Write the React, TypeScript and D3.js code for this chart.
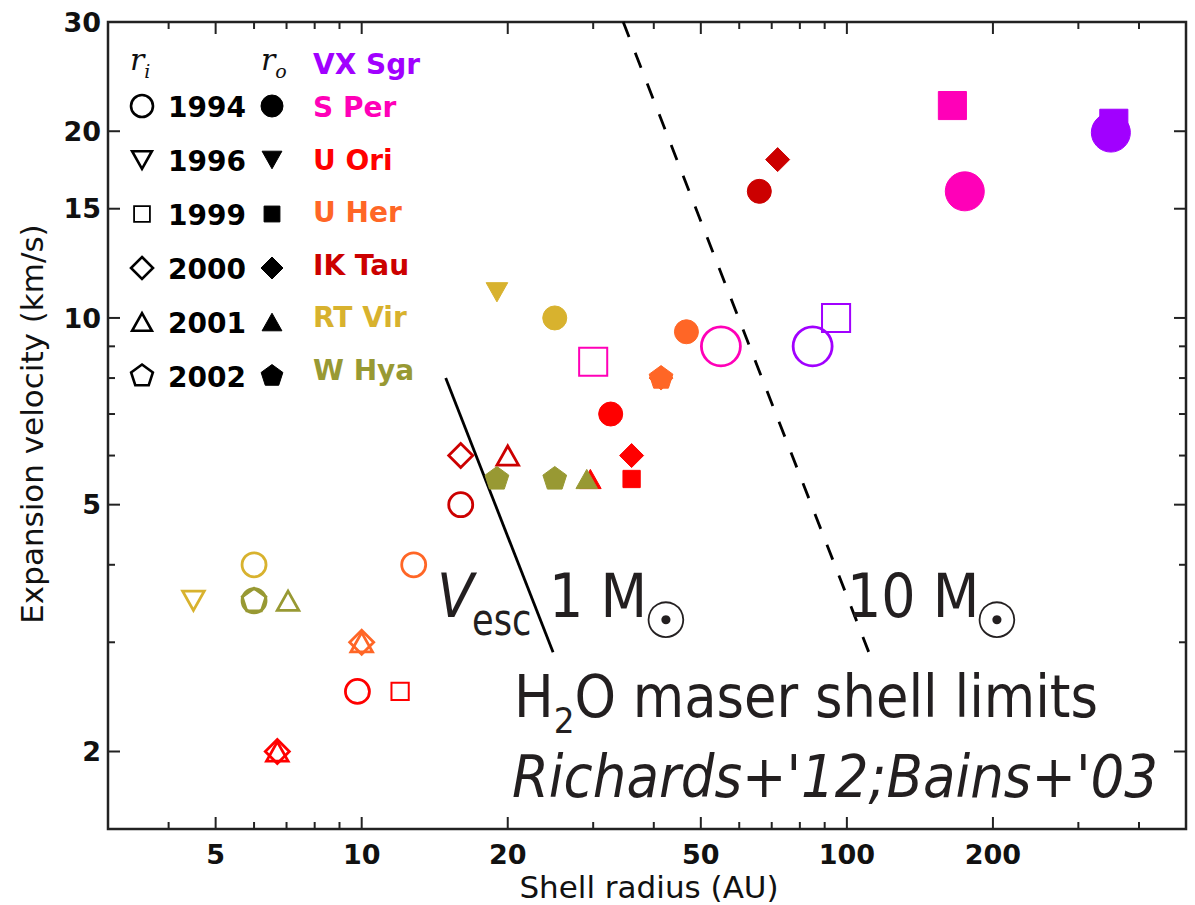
import React from 'react';
import * as d3 from 'd3';

// stars and epochs used in the legend
const stars = ['VX Sgr', 'S Per', 'U Ori', 'U Her', 'IK Tau', 'RT Vir', 'W Hya'];
const epochs = [1994, 1996, 1999, 2000, 2001, 2002];

// every measured shell edge: star, epoch, inner (i) / outer (o) edge, radius (AU), velocity (km/s)
const pointStar = [
  'VX Sgr', 'VX Sgr', 'VX Sgr', 'VX Sgr',
  'S Per', 'S Per', 'S Per', 'S Per',
  'IK Tau', 'IK Tau', 'IK Tau', 'IK Tau', 'IK Tau',
  'U Ori', 'U Ori', 'U Ori', 'U Ori', 'U Ori', 'U Ori', 'U Ori', 'U Ori',
  'U Her', 'U Her', 'U Her', 'U Her', 'U Her', 'U Her',
  'RT Vir', 'RT Vir', 'RT Vir', 'RT Vir',
  'W Hya', 'W Hya', 'W Hya', 'W Hya', 'W Hya', 'W Hya',
];
const pointEpoch = [
  1994, 1999, 1999, 1994,
  1994, 1999, 1999, 1994,
  1994, 2000, 2000, 2001, 1994,
  1994, 2000, 1999, 2001, 1994, 1999, 2000, 2001,
  1994, 2000, 2002, 1994, 2000, 2001,
  1996, 1994, 1994, 1996,
  2002, 2002, 2001, 2002, 1994, 2001,
];
const pointEdge = [
  'i', 'i', 'o', 'o',
  'i', 'i', 'o', 'o',
  'o', 'o', 'i', 'i', 'i',
  'o', 'o', 'o', 'o', 'i', 'i', 'i', 'i',
  'o', 'o', 'o', 'i', 'i', 'i',
  'o', 'o', 'i', 'i',
  'o', 'o', 'o', 'i', 'i', 'i',
];
const pointRadius = [
  85, 95, 355, 350,
  55, 30, 165, 175,
  66, 72, 16, 20, 16,
  32.6, 36, 36, 29.6, 9.8, 12, 6.7, 6.7,
  46.7, 41.4, 41.4, 12.8, 10, 10,
  19, 25, 6.0, 4.5,
  19, 25, 29.1, 6.0, 6.0, 7.05,
];
const pointVelocity = [
  9.0, 10.0, 20.6, 19.9,
  9.0, 8.5, 22.0, 16.0,
  16.0, 18.0, 6.0, 6.0, 5.0,
  7.0, 6.0, 5.5, 5.5, 2.5, 2.5, 2.0, 2.0,
  9.5, 8.0, 8.0, 4.0, 3.0, 3.0,
  11.0, 10.0, 4.0, 3.5,
  5.5, 5.5, 5.5, 3.5, 3.5, 3.5,
];

// escape velocity guide lines (1 and 10 solar masses)
const limitMass = ['1', '10'];
const limitRadius = [[14.9, 24.8], [34.6, 111]];
const limitVelocity = [[8.0, 2.89], [30, 2.89]];

const xTicksMajor = [5, 10, 20, 50, 100, 200];
const xTicksMinor = [4, 6, 7, 8, 9, 30, 40, 60, 70, 80, 90, 300, 400];
const yTicksMajor = [2, 5, 10, 15, 20];
const yTicksMinor = [3, 4, 6, 7, 8, 9];
const yTickLabels = [2, 5, 10, 15, 20, 30];

const starColor: Record<string, string> = {
  'VX Sgr': '#a100ff',
  'S Per': '#ff00b8',
  'U Ori': '#ff0000',
  'U Her': '#ff6626',
  'IK Tau': '#cc0000',
  'RT Vir': '#d8b22e',
  'W Hya': '#989933',
};
const epochShape: Record<number, string> = {
  1994: 'circle', 1996: 'triDown', 1999: 'square', 2000: 'diamond', 2001: 'triUp', 2002: 'pentagon',
};
const bigStars = ['VX Sgr', 'S Per'];

const left = 108, right = 1186, top = 22, bottom = 829;
const x = d3.scaleLog().domain([3, 500]).range([left, right]);
const y = d3.scaleLog().domain([1.5, 30]).range([bottom, top]);

const closed = d3.line().curve(d3.curveLinearClosed);

function markerPath(shape: string, d: number): string {
  if (shape === 'circle') return d3.symbol(d3.symbolCircle, Math.PI * (d / 2) ** 2)() as string;
  if (shape === 'square') {
    const s = 0.72 * d / 2;
    return closed([[-s, -s], [s, -s], [s, s], [-s, s]]) as string;
  }
  if (shape === 'diamond') {
    const h = d / 2;
    return closed([[0, -h], [h, 0], [0, h], [-h, 0]]) as string;
  }
  if (shape === 'triUp' || shape === 'triDown') {
    const w = 0.9 * d / 2, h = 0.8 * d / 2, s = shape === 'triUp' ? 1 : -1;
    return closed([[0, -h * s], [w, h * s], [-w, h * s]]) as string;
  }
  const R = 0.52 * d;
  return closed(d3.range(5).map(k => {
    const a = -Math.PI / 2 + (k * 2 * Math.PI) / 5;
    return [R * Math.cos(a), R * Math.sin(a)] as [number, number];
  })) as string;
}

const ink = '#231f20';

export default function App() {
  const points = pointStar.map((s, i) => ({
    star: s, epoch: pointEpoch[i], edge: pointEdge[i], r: pointRadius[i], v: pointVelocity[i],
  }));

  return (
    <svg width={1195} height={905} style={{ position: 'absolute', left: 0, top: 0, background: '#fff' }}
      fontFamily="'DejaVu Sans', sans-serif">
      {/* frame */}
      <rect x={left} y={top} width={right - left} height={bottom - top} fill="none" stroke="#222" strokeWidth={2.5} />

      {/* x ticks */}
      {[...xTicksMajor.map(t => [t, 12]), ...xTicksMinor.map(t => [t, 7])].map(([t, len], i) => (
        <g key={'xt' + i} stroke="#222" strokeWidth={2}>
          <line x1={x(t)} x2={x(t)} y1={bottom} y2={bottom - len} />
          <line x1={x(t)} x2={x(t)} y1={top} y2={top + len} />
        </g>
      ))}
      {xTicksMajor.map(t => (
        <text key={'xl' + t} x={x(t)} y={864} textAnchor="middle" fontSize={27} fontWeight="bold" fill="#111">{t}</text>
      ))}

      {/* y ticks */}
      {[...yTicksMajor.map(t => [t, 12]), ...yTicksMinor.map(t => [t, 7])].map(([t, len], i) => (
        <g key={'yt' + i} stroke="#222" strokeWidth={2}>
          <line x1={left} x2={left + len} y1={y(t)} y2={y(t)} />
          <line x1={right} x2={right - len} y1={y(t)} y2={y(t)} />
        </g>
      ))}
      {yTickLabels.map(t => (
        <text key={'yl' + t} x={101} y={y(t)} dy="0.36em" textAnchor="end" fontSize={27} fontWeight="bold" fill="#111">{t}</text>
      ))}

      {/* axis titles */}
      <text x={649} y={898} textAnchor="middle" fontSize={31} fill="#111">Shell radius (AU)</text>
      <text transform="translate(43,424) rotate(-90)" textAnchor="middle" fontSize={31} fill="#111">Expansion velocity (km/s)</text>

      {/* escape velocity guides */}
      {limitMass.map((m, i) => (
        <line key={'lim' + m} x1={x(limitRadius[i][0])} y1={y(limitVelocity[i][0])}
          x2={x(limitRadius[i][1])} y2={y(limitVelocity[i][1])}
          stroke="#000" strokeWidth={2.8} strokeDasharray={i === 1 ? '16 17' : undefined} />
      ))}

      {/* data */}
      {points.map((p, i) => {
        const d = bigStars.includes(p.star) ? 39 : 24;
        const shape = epochShape[p.epoch];
        const c = starColor[p.star];
        const open = p.edge === 'i';
        return (
          <path key={'p' + i} d={markerPath(shape, d)} transform={`translate(${x(p.r)},${y(p.v)})`}
            fill={open ? 'none' : c} stroke={c} strokeWidth={open ? (shape === 'square' ? 2 : 2.8) : 1} />
        );
      })}

      {/* legend */}
      <text x={130} y={70} fontFamily="'DejaVu Serif', serif" fontStyle="italic" fontSize={30} fill="#111">
        r<tspan fontSize={19} dy={8}>i</tspan>
      </text>
      <text x={261} y={70} fontFamily="'DejaVu Serif', serif" fontStyle="italic" fontSize={30} fill="#111">
        r<tspan fontSize={19} dy={8}>o</tspan>
      </text>
      {epochs.map((e, i) => {
        const base = 117 + 54 * i;
        const shape = epochShape[e];
        return (
          <g key={'le' + e}>
            <path d={markerPath(shape, 22)} transform={`translate(142,${base - 11})`} fill="none" stroke="#000"
              strokeWidth={shape === 'square' ? 1.8 : 2.6} />
            <text x={168} y={base} fontSize={28} fontWeight="bold" fill="#000">{e}</text>
            <path d={markerPath(shape, 22)} transform={`translate(272,${base - 11})`} fill="#000" stroke="#000" strokeWidth={1} />
          </g>
        );
      })}
      {stars.map((s, i) => (
        <text key={'ls' + s} x={313} y={i === 0 ? 74 : 117 + 52.5 * (i - 1)} fontSize={28} fontWeight="bold"
          fill={starColor[s]}>{s}</text>
      ))}

      {/* annotations */}
      <g fill={ink}>
        <text transform="translate(437,617) scale(0.9,1)" fontSize={60} fontStyle="italic">V</text>
        <text transform="translate(472,635) scale(0.8,1)" fontSize={44}>esc</text>
        <text transform="translate(549,617) scale(0.9,1)" fontSize={60}>1 M</text>
        <text x={666} y={638} textAnchor="middle" fontSize={50}>☉</text>
        <text transform="translate(847,617) scale(0.9,1)" fontSize={60}>10 M</text>
        <text x={997} y={638} textAnchor="middle" fontSize={50}>☉</text>
        <text transform="translate(514,717) scale(0.91,1)" fontSize={58}>
          H<tspan fontSize={36} dy={16}>2</tspan><tspan dy={-16}>O maser shell limits</tspan>
        </text>
        <text transform="translate(512,797) scale(0.915,1)" fontSize={58} fontStyle="italic">Richards+'12;Bains+'03</text>
      </g>
    </svg>
  );
}
